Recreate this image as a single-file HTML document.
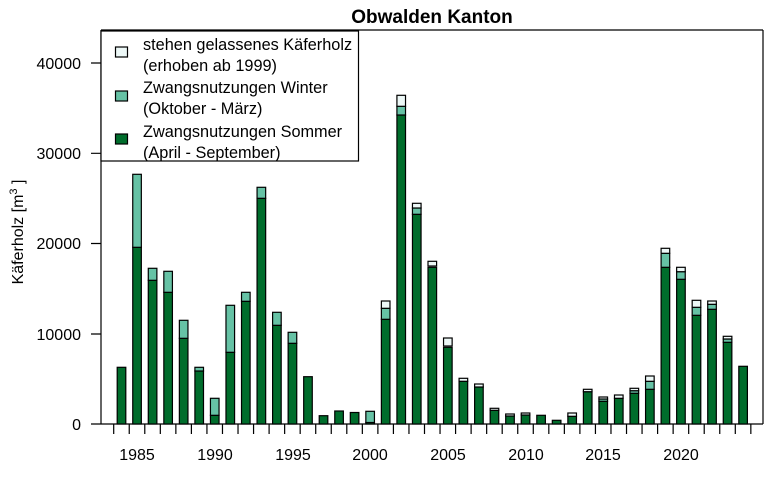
<!DOCTYPE html>
<html><head><meta charset="utf-8"><style>body{margin:0;background:#fff}svg{display:block;font-family:"Liberation Sans",sans-serif}</style></head><body>
<svg width="768" height="484" viewBox="0 0 768 484" xmlns="http://www.w3.org/2000/svg">
<rect width="768" height="484" fill="#fff"/>
<text x="432" y="23" font-size="19" font-weight="bold" text-anchor="middle">Obwalden Kanton</text>
<path d="M101 30V424M763 30V424M101 30H763M101 424H763" stroke="#000" fill="none" stroke-width="1.2"/>
<path d="M91 424H101M91 334H101M91 243.5H101M91 153.3H101M91 63H101" stroke="#000" stroke-width="1.2"/>
<g font-size="16" text-anchor="end">
<text x="81" y="430">0</text><text x="81" y="340">10000</text><text x="81" y="249">20000</text><text x="81" y="159">30000</text><text x="81" y="69">40000</text>
</g>
<text transform="translate(23,232) rotate(-90)" font-size="16" text-anchor="middle">Käferholz [m<tspan font-size="11" dy="-6">3</tspan><tspan dy="6"> ]</tspan></text>
<path stroke="#000" stroke-width="1.2" d="M113.7 424V434M129.24 424V434M144.78 424V434M160.32 424V434M175.86 424V434M191.4 424V434M206.94 424V434M222.48 424V434M238.02 424V434M253.56 424V434M269.1 424V434M284.64 424V434M300.18 424V434M315.72 424V434M331.26 424V434M346.8 424V434M362.34 424V434M377.88 424V434M393.42 424V434M408.96 424V434M424.5 424V434M440.04 424V434M455.58 424V434M471.12 424V434M486.66 424V434M502.2 424V434M517.74 424V434M533.28 424V434M548.82 424V434M564.36 424V434M579.9 424V434M595.44 424V434M610.98 424V434M626.52 424V434M642.06 424V434M657.6 424V434M673.14 424V434M688.68 424V434M704.22 424V434M719.76 424V434M735.3 424V434M750.84 424V434"/>
<g font-size="16" text-anchor="middle">
<text x="137" y="460">1985</text><text x="215" y="460">1990</text><text x="293" y="460">1995</text><text x="370" y="460">2000</text><text x="448" y="460">2005</text><text x="526" y="460">2010</text><text x="603" y="460">2015</text><text x="681" y="460">2020</text>
</g>
<g stroke="#000" stroke-width="1.2" fill="#006d2c">
<rect x="117.2" y="367.3" width="8.6" height="56.7"/>
<rect x="132.74" y="247.3" width="8.6" height="176.7"/>
<rect x="148.28" y="280.3" width="8.6" height="143.7"/>
<rect x="163.82" y="292.3" width="8.6" height="131.7"/>
<rect x="179.36" y="338.3" width="8.6" height="85.7"/>
<rect x="194.9" y="371" width="8.6" height="53"/>
<rect x="210.44" y="415.3" width="8.6" height="8.7"/>
<rect x="225.98" y="352.3" width="8.6" height="71.7"/>
<rect x="241.52" y="301.3" width="8.6" height="122.7"/>
<rect x="257.06" y="198.3" width="8.6" height="225.7"/>
<rect x="272.6" y="325.3" width="8.6" height="98.7"/>
<rect x="288.14" y="343.3" width="8.6" height="80.7"/>
<rect x="303.68" y="376.7" width="8.6" height="47.3"/>
<rect x="319.22" y="415.7" width="8.6" height="8.3"/>
<rect x="334.76" y="411" width="8.6" height="13"/>
<rect x="350.3" y="412.5" width="8.6" height="11.5"/>
<rect x="365.84" y="422.5" width="8.6" height="1.5"/>
<rect x="381.38" y="319.3" width="8.6" height="104.7"/>
<rect x="396.92" y="115" width="8.6" height="309"/>
<rect x="412.46" y="214.3" width="8.6" height="209.7"/>
<rect x="428" y="267.3" width="8.6" height="156.7"/>
<rect x="443.54" y="347.3" width="8.6" height="76.7"/>
<rect x="459.08" y="381.3" width="8.6" height="42.7"/>
<rect x="474.62" y="387" width="8.6" height="37"/>
<rect x="490.16" y="410.3" width="8.6" height="13.7"/>
<rect x="505.7" y="416" width="8.6" height="8"/>
<rect x="521.24" y="415" width="8.6" height="9"/>
<rect x="536.78" y="415.3" width="8.6" height="8.7"/>
<rect x="552.32" y="420.3" width="8.6" height="3.7"/>
<rect x="567.86" y="416.3" width="8.6" height="7.7"/>
<rect x="583.4" y="391.7" width="8.6" height="32.3"/>
<rect x="598.94" y="401.3" width="8.6" height="22.7"/>
<rect x="614.48" y="398.3" width="8.6" height="25.7"/>
<rect x="630.02" y="393.3" width="8.6" height="30.7"/>
<rect x="645.56" y="389.3" width="8.6" height="34.7"/>
<rect x="661.1" y="267.3" width="8.6" height="156.7"/>
<rect x="676.64" y="279.3" width="8.6" height="144.7"/>
<rect x="692.18" y="315.3" width="8.6" height="108.7"/>
<rect x="707.72" y="309.3" width="8.6" height="114.7"/>
<rect x="723.26" y="342.3" width="8.6" height="81.7"/>
<rect x="738.8" y="366.3" width="8.6" height="57.7"/>
</g>
<g stroke="#000" stroke-width="1.2" fill="#66c2a5">
<rect x="132.74" y="174.3" width="8.6" height="73"/>
<rect x="148.28" y="268.3" width="8.6" height="12"/>
<rect x="163.82" y="271.3" width="8.6" height="21"/>
<rect x="179.36" y="320.3" width="8.6" height="18"/>
<rect x="194.9" y="367.3" width="8.6" height="3.7"/>
<rect x="210.44" y="398.3" width="8.6" height="17"/>
<rect x="225.98" y="305.3" width="8.6" height="47"/>
<rect x="241.52" y="292.3" width="8.6" height="9"/>
<rect x="257.06" y="187.3" width="8.6" height="11"/>
<rect x="272.6" y="312.3" width="8.6" height="13"/>
<rect x="288.14" y="332.3" width="8.6" height="11"/>
<rect x="365.84" y="411.3" width="8.6" height="11.2"/>
<rect x="381.38" y="308.3" width="8.6" height="11"/>
<rect x="396.92" y="106.3" width="8.6" height="8.7"/>
<rect x="412.46" y="208" width="8.6" height="6.3"/>
<rect x="598.94" y="399" width="8.6" height="2.3"/>
<rect x="630.02" y="390.7" width="8.6" height="2.6"/>
<rect x="645.56" y="381.3" width="8.6" height="8"/>
<rect x="661.1" y="253.3" width="8.6" height="14"/>
<rect x="676.64" y="271.7" width="8.6" height="7.6"/>
<rect x="692.18" y="307.3" width="8.6" height="8"/>
<rect x="707.72" y="304.3" width="8.6" height="5"/>
<rect x="723.26" y="339" width="8.6" height="3.3"/>
</g>
<g stroke="#000" stroke-width="1.2" fill="#edf8f7">
<rect x="381.38" y="301" width="8.6" height="7.3"/>
<rect x="396.92" y="95.3" width="8.6" height="11"/>
<rect x="412.46" y="203.3" width="8.6" height="4.7"/>
<rect x="428" y="261.3" width="8.6" height="4.7"/>
<rect x="443.54" y="338" width="8.6" height="8"/>
<rect x="459.08" y="378.3" width="8.6" height="3"/>
<rect x="474.62" y="384" width="8.6" height="3"/>
<rect x="490.16" y="408.3" width="8.6" height="2"/>
<rect x="505.7" y="414" width="8.6" height="2"/>
<rect x="521.24" y="413" width="8.6" height="2"/>
<rect x="567.86" y="413" width="8.6" height="3.3"/>
<rect x="583.4" y="389.3" width="8.6" height="2.4"/>
<rect x="598.94" y="397" width="8.6" height="2"/>
<rect x="614.48" y="395" width="8.6" height="3.3"/>
<rect x="630.02" y="388.3" width="8.6" height="2.4"/>
<rect x="645.56" y="376" width="8.6" height="5.3"/>
<rect x="661.1" y="248.3" width="8.6" height="5"/>
<rect x="676.64" y="267.3" width="8.6" height="4.4"/>
<rect x="692.18" y="300.3" width="8.6" height="7"/>
<rect x="707.72" y="301" width="8.6" height="3.3"/>
<rect x="723.26" y="336.3" width="8.6" height="2.7"/>
</g>
<rect x="101" y="31" width="257.5" height="130" fill="#fff" stroke="#000" stroke-width="1.2"/>
<rect x="115.5" y="47" width="12" height="10" fill="#edf8f7" stroke="#000" stroke-width="1.2"/>
<rect x="115.5" y="91" width="12" height="10" fill="#66c2a5" stroke="#000" stroke-width="1.2"/>
<rect x="115.5" y="134" width="12" height="10" fill="#006d2c" stroke="#000" stroke-width="1.2"/>
<g font-size="16.3">
<text x="143" y="50">stehen gelassenes Käferholz</text>
<text x="143" y="71">(erhoben ab 1999)</text>
<text x="143" y="93">Zwangsnutzungen Winter</text>
<text x="143" y="114">(Oktober - März)</text>
<text x="143" y="137">Zwangsnutzungen Sommer</text>
<text x="143" y="158">(April - September)</text>
</g>
</svg>
</body></html>
